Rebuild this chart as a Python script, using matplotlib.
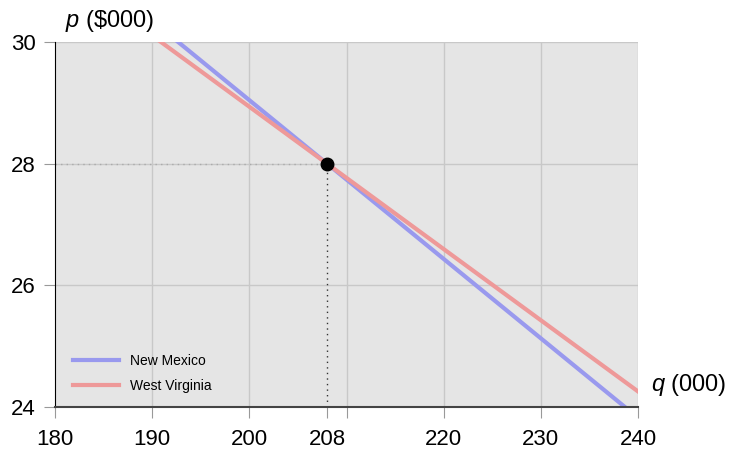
import matplotlib
matplotlib.use('Agg')
import matplotlib.pyplot as plt
import numpy as np

plt.rcParams['font.family'] = ['Liberation Sans', 'DejaVu Sans']
plt.rcParams['mathtext.fontset'] = 'custom'
plt.rcParams['mathtext.it'] = 'Liberation Sans:italic'
plt.rcParams['mathtext.rm'] = 'Liberation Sans'

q = np.array([180, 240])
# demand lines: p = p0 + slope*(q - 208)
names = ['New Mexico', 'West Virginia']
p_at_208 = [28.0, 28.0]
slopes = [-0.1305, -0.117]
colors = ['#9999ee', '#ee9999']
eq_q, eq_p = 208, 28
xticks = [180, 190, 200, 208, 210, 220, 230, 240]
xlabels = ['180', '190', '200', '208', '', '220', '230', '240']
xgrid = [190, 200, 210, 220, 230, 240]
yticks = [24, 26, 28, 30]

fig = plt.figure(figsize=(7.36, 4.53), dpi=100)
ax = fig.add_axes([55/736, 1-407/453, 583/736, 365/453])
ax.set_facecolor('#e5e5e5')

for x in xgrid:
    ax.axvline(x, color='#c8c8c8', lw=1, zorder=0)
for y in yticks:
    ax.axhline(y, color='#c8c8c8', lw=1, zorder=0)

for name, p0, s, c in zip(names, p_at_208, slopes, colors):
    ax.plot(q, p0 + s*(q - eq_q), color=c, lw=3, label=name, zorder=2)

ax.plot([180, eq_q], [eq_p, eq_p], color='#aaaaaa', lw=1, ls=(0, (1, 3)), zorder=1)
ax.plot([eq_q, eq_q], [24, eq_p], color='#333333', lw=1, ls=(0, (1, 3)), zorder=1)
ax.plot(eq_q, eq_p, 'o', color='black', ms=9, zorder=3)

ax.set_xlim(180, 240)
ax.set_ylim(24, 30)
ax.set_xticks(xticks)
ax.set_xticklabels(xlabels)
ax.set_yticks(yticks)
ax.tick_params(labelsize=16, length=8, color='#999999')
ax.tick_params(axis='x', pad=8)
ax.tick_params(axis='y', pad=6)
for side in ['top', 'right']:
    ax.spines[side].set_visible(False)
ax.spines['left'].set_color('black')
ax.spines['bottom'].set_color('#444444')
ax.spines['bottom'].set_linewidth(1.5)

fig.text(65/736, 1-21/453, r'$p$ (\$000)', fontsize=17, ha='left', va='center')
fig.text(651/736, 1-385/453, r'$q$ (000)', fontsize=17, ha='left', va='center')

ax.legend(loc='lower left', frameon=False, fontsize=10, handlelength=3.3,
          labelspacing=0.8, bbox_to_anchor=(0.01, 0.005))

fig.savefig('out.png', dpi=100)
